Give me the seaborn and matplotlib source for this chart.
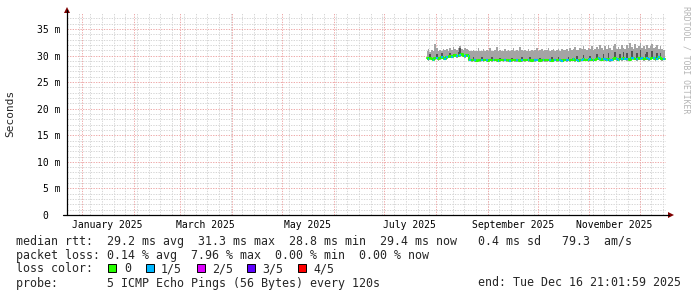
import numpy as np
import pandas as pd
import matplotlib
matplotlib.use("Agg")
import matplotlib.pyplot as plt
import matplotlib.dates as mdates
import seaborn as sns
from matplotlib.patches import Rectangle, Polygon
from matplotlib.lines import Line2D

# ---------------- data ----------------
first_day = "2025-07-26"
median_ms = [
    29.5, 29.3, 29.6, 29.4, 29.1, 29.5, 29.6, 29.3, 29.5, 29.7, 29.6, 29.4,
    29.7, 29.8, 29.9, 29.8, 30.0, 30.1, 29.9, 30.0, 30.1, 30.2, 30.0, 29.9,
    30.1, 30.0, 29.2, 29.1, 29.2, 29.1, 29.0, 29.2, 29.1, 29.2, 29.1, 29.2,
    29.1, 29.0, 29.2, 29.1, 29.2, 29.2, 29.1, 29.0, 29.1, 29.2, 29.1, 29.2,
    29.1, 29.2, 29.0, 29.1, 29.2, 29.1, 29.1, 29.2, 29.0, 29.1, 29.2, 29.1,
    29.2, 29.1, 29.1, 29.0, 29.2, 29.1, 29.2, 29.1, 29.0, 29.1, 29.2, 29.1,
    29.1, 29.2, 29.1, 29.0, 29.1, 29.2, 29.1, 29.1, 29.2, 29.0, 29.1, 29.2,
    29.1, 29.2, 29.1, 29.2, 29.3, 29.1, 29.2, 29.0, 29.1, 29.2, 29.3, 29.2,
    29.2, 29.1, 29.3, 29.2, 29.1, 29.2, 29.4, 29.5, 29.3, 29.2, 29.4, 29.3,
    29.2, 29.3, 29.1, 29.2, 29.4, 29.5, 29.3, 29.2, 29.4, 29.3, 29.5, 29.4,
    29.3, 29.4, 29.2, 29.5, 29.6, 29.4, 29.3, 29.5, 29.4, 29.6, 29.3, 29.4,
    29.5, 29.3, 29.4, 29.6, 29.5, 29.3, 29.4, 29.7, 29.5, 29.3, 29.4, 29.4,
]
smoke_max_ms = [
    30.9, 31.2, 30.7, 31.0, 30.8, 32.1, 31.5, 30.9, 31.1, 30.8, 31.3, 31.0,
    31.2, 30.9, 31.4, 31.1, 31.6, 31.2, 31.0, 31.5, 31.8, 31.3, 31.1, 31.4,
    31.2, 31.0, 30.9, 30.8, 31.1, 30.8, 30.9, 31.5, 30.8, 30.9, 31.2, 30.8,
    31.0, 30.8, 31.4, 30.9, 30.8, 31.1, 31.6, 30.8, 31.0, 30.9, 30.8, 31.2,
    30.9, 31.1, 30.8, 31.0, 31.5, 30.8, 31.0, 30.9, 31.6, 31.0, 30.8, 31.1,
    30.9, 31.2, 30.8, 31.0, 30.9, 31.1, 31.4, 30.8, 31.0, 31.2, 30.9, 31.0,
    31.0, 31.4, 30.9, 31.1, 31.2, 30.9, 31.0, 31.3, 30.9, 31.2, 31.0, 31.1,
    31.2, 30.9, 31.5, 31.0, 31.2, 31.6, 31.1, 31.0, 31.4, 31.2, 31.8, 31.3,
    31.1, 31.5, 31.2, 31.8, 31.1, 31.3, 31.6, 31.2, 31.9, 31.4, 31.1, 31.7,
    31.2, 32.0, 31.4, 31.1, 31.7, 32.2, 31.3, 31.6, 31.2, 32.0, 31.5, 31.3,
    31.9, 31.4, 32.4, 31.6, 31.2, 32.1, 31.5, 31.8, 32.3, 31.4, 31.7, 31.3,
    32.0, 31.5, 31.8, 32.2, 31.4, 31.6, 31.9, 31.3, 31.7, 31.2, 31.0, 30.9,
]
smoke_upper_ms = [
    29.7, 29.5, 30.2, 29.6, 29.3, 29.7, 30.3, 29.5, 29.7, 30.4, 29.8, 29.6,
    29.9, 30.0, 30.5, 30.0, 30.2, 30.3, 30.1, 30.6, 31.5, 30.4, 30.2, 30.1,
    30.3, 30.2, 29.4, 29.3, 29.8, 29.3, 29.2, 29.4, 29.3, 29.7, 29.3, 29.4,
    29.3, 29.2, 29.4, 29.7, 29.4, 29.4, 29.3, 29.2, 29.6, 29.4, 29.3, 29.4,
    29.3, 29.4, 29.2, 29.6, 29.4, 29.3, 29.3, 29.4, 29.2, 29.7, 29.4, 29.3,
    29.4, 29.3, 29.8, 29.2, 29.4, 29.3, 29.4, 29.3, 29.6, 29.3, 29.4, 29.3,
    29.3, 29.4, 29.3, 29.7, 29.3, 29.4, 29.3, 29.8, 29.4, 29.2, 29.3, 29.4,
    29.3, 29.8, 29.3, 29.4, 29.5, 29.3, 29.9, 29.2, 29.3, 29.4, 30.1, 29.4,
    29.4, 29.3, 30.0, 29.4, 29.3, 29.4, 30.2, 29.7, 29.5, 29.4, 30.3, 29.5,
    29.4, 30.4, 29.3, 29.4, 29.6, 30.6, 29.5, 29.4, 30.2, 29.5, 30.7, 29.6,
    30.5, 29.6, 29.4, 30.8, 29.8, 29.6, 30.4, 29.7, 31.0, 29.8, 29.5, 30.3,
    30.6, 29.5, 29.6, 30.9, 29.7, 29.5, 30.5, 29.9, 30.4, 29.5, 29.6, 29.6,
]
smoke_min_ms = [
    29.2, 29.0, 29.3, 29.1, 28.9, 29.2, 29.3, 29.0, 29.2, 29.4, 29.3, 29.1,
    29.4, 29.5, 29.6, 29.5, 29.7, 29.8, 29.6, 29.7, 29.8, 29.9, 29.7, 29.6,
    29.8, 29.7, 28.9, 28.8, 28.9, 28.8, 28.7, 28.9, 28.8, 28.9, 28.8, 28.9,
    28.8, 28.7, 28.9, 28.8, 28.9, 28.9, 28.8, 28.7, 28.8, 28.9, 28.8, 28.9,
    28.8, 28.9, 28.7, 28.8, 28.9, 28.8, 28.8, 28.9, 28.7, 28.8, 28.9, 28.8,
    28.9, 28.8, 28.8, 28.7, 28.9, 28.8, 28.9, 28.8, 28.7, 28.8, 28.9, 28.8,
    28.8, 28.9, 28.8, 28.7, 28.8, 28.9, 28.8, 28.8, 28.9, 28.7, 28.8, 28.9,
    28.8, 28.9, 28.8, 28.9, 29.0, 28.8, 28.9, 28.7, 28.8, 28.9, 29.0, 28.9,
    28.9, 28.8, 29.0, 28.9, 28.8, 28.9, 29.1, 29.2, 29.0, 28.9, 29.1, 29.0,
    28.9, 29.0, 28.8, 28.9, 29.1, 29.2, 29.0, 28.9, 29.1, 29.0, 29.2, 29.1,
    29.0, 29.1, 28.9, 29.2, 29.3, 29.1, 29.0, 29.2, 29.1, 29.3, 29.0, 29.1,
    29.2, 29.0, 29.1, 29.3, 29.2, 29.0, 29.1, 29.4, 29.2, 29.0, 29.1, 29.1,
]
loss_count = [
    0, 1, 0, 0, 1, 0, 1, 0, 0, 1, 0, 1,
    1, 0, 0, 1, 0, 0, 1, 0, 1, 0, 0, 1,
    0, 1, 1, 0, 0, 1, 0, 0, 0, 1, 0, 0,
    1, 0, 0, 0, 1, 0, 0, 1, 0, 0, 0, 1,
    0, 0, 1, 0, 0, 0, 1, 0, 0, 1, 0, 0,
    0, 1, 0, 0, 0, 1, 1, 0, 0, 0, 1, 0,
    0, 0, 1, 0, 0, 1, 0, 0, 1, 1, 0, 0,
    1, 1, 0, 0, 1, 0, 1, 1, 0, 1, 1, 0,
    0, 1, 1, 0, 1, 0, 0, 1, 1, 0, 1, 1,
    1, 0, 1, 1, 0, 0, 1, 1, 0, 1, 0, 1,
    1, 0, 0, 1, 1, 0, 1, 0, 1, 1, 0, 0,
    1, 1, 0, 0, 1, 0, 1, 1, 0, 0, 1, 0,
]
x_start = "2024-12-23 00:00"
x_end = "2025-12-16 21:02"
month_label_dates = ["2025-01-16", "2025-03-16", "2025-05-16",
                     "2025-07-16", "2025-09-16", "2025-11-16"]
month_labels = ["January 2025", "March 2025", "May 2025",
                "July 2025", "September 2025", "November 2025"]
y_ticks = [0, 5, 10, 15, 20, 25, 30, 35]
y_tick_labels = ["0  ", "5 m", "10 m", "15 m", "20 m", "25 m", "30 m", "35 m"]
loss_legend_labels = ["0", "1/5", "2/5", "3/5", "4/5"]
loss_legend_colors = ["#26ff00", "#00b8ff", "#dd00ff", "#5e00ff", "#ff0000"]
stats_row1 = "median rtt:  29.2 ms avg  31.3 ms max  28.8 ms min  29.4 ms now   0.4 ms sd   79.3  am/s"
stats_row2 = "packet loss: 0.14 % avg  7.96 % max  0.00 % min  0.00 % now"
stats_row3 = "loss color:"
stats_row4 = "probe:       5 ICMP Echo Pings (56 Bytes) every 120s"
end_text = "end: Tue Dec 16 21:01:59 2025"
watermark = "RRDTOOL / TOBI OETIKER"

# ---------------- figure ----------------
sns.set_style("white")
plt.rcParams["font.family"] = ["DejaVu Sans Mono", "DejaVu Sans"]

W, H = 697, 297
fig = plt.figure(figsize=(W / 100, H / 100), dpi=100)
fig.patch.set_facecolor("white")


def fx(x):
    return x / W


def fy(y):
    return 1 - y / H


L, R, B, T = 67, 666, 215, 13
ax = fig.add_axes([fx(L), fy(B), fx(R) - fx(L), fy(T) - fy(B)])
ax.set_facecolor("white")

days = pd.date_range(first_day, periods=len(median_ms), freq="D") + pd.Timedelta(hours=12)
xd = mdates.date2num(days.to_pydatetime())
df = pd.DataFrame({"x": xd, "median": median_ms, "max": smoke_max_ms,
                   "upper": smoke_upper_ms, "min": smoke_min_ms, "loss": loss_count})

x0 = mdates.date2num(pd.Timestamp(x_start).to_pydatetime())
x1 = mdates.date2num(pd.Timestamp(x_end).to_pydatetime())
ax.set_xlim(x0, x1)
ax.set_ylim(0, 38.0)

# grid
dot = (0, (1.3, 1.3))
for yv in range(1, 38):
    if yv % 5:
        ax.axhline(yv, color="#d6d6d6", lw=0.72, ls=dot, zorder=0)
weeks = pd.date_range(x_start, x_end, freq="W-MON")
for w in mdates.date2num(weeks.to_pydatetime()):
    ax.axvline(w, color="#d6d6d6", lw=0.72, ls=dot, zorder=0)
months = pd.date_range("2025-01-01", x_end, freq="MS")
month_nums = mdates.date2num(months.to_pydatetime())
for m in month_nums:
    ax.axvline(m, color="#eeaaaa", lw=0.72, ls=dot, zorder=0.5)
for yv in y_ticks[1:]:
    ax.axhline(yv, color="#eeaaaa", lw=0.72, ls=dot, zorder=0.5)

# smoke
ax.fill_between(df["x"], df["min"], df["max"], step="mid", color="#a4a4a4", lw=0, zorder=2)
ax.fill_between(df["x"], df["median"], df["upper"], step="mid", color="#555555", lw=0, zorder=3)

# median line coloured by loss
sns.lineplot(data=df, x="x", y="median", drawstyle="steps-mid", color=loss_legend_colors[0],
             lw=1.5, ax=ax, zorder=4, legend=False, estimator=None)
lossy = df[df["loss"] > 0]
ax.hlines(lossy["median"], lossy["x"] - 0.5, lossy["x"] + 0.5,
          colors=[loss_legend_colors[k] for k in lossy["loss"]], lw=1.5, zorder=5)

# ticks
for s in ax.spines.values():
    s.set_visible(False)
ax.set_xticks(month_nums, labels=[""] * len(month_nums))
ax.set_xticks(mdates.date2num(pd.to_datetime(month_label_dates).to_pydatetime()),
              labels=month_labels, minor=True)
ax.tick_params(axis="x", which="major", length=2.5, width=0.72, color="black", direction="out")
ax.tick_params(axis="x", which="minor", length=0, pad=3.6, labelsize=7, labelcolor="black")
ax.set_yticks(y_ticks, labels=y_tick_labels)
ax.tick_params(axis="y", which="major", length=2.5, width=0.72, color="black",
               direction="out", pad=2.2, labelsize=7, labelcolor="black")
ax.set_xlabel("")
ax.set_ylabel("")

# axes lines + arrows
fig.add_artist(Line2D([fx(L), fx(L)], [fy(B), fy(10)], color="black", lw=0.9))
fig.add_artist(Line2D([fx(63), fx(669)], [fy(B), fy(B)], color="black", lw=0.9))
fig.add_artist(Polygon([(fx(64), fy(13)), (fx(70), fy(13)), (fx(67), fy(7))],
                       closed=True, color="#7f0000", lw=0))
fig.add_artist(Polygon([(fx(668), fy(212)), (fx(668), fy(218)), (fx(674), fy(215))],
                       closed=True, color="#7f0000", lw=0))

# labels
fig.text(fx(10), fy(113), "Seconds", rotation=90, ha="center", va="center", fontsize=8)
fig.text(fx(686), fy(60), watermark, rotation=270, ha="center", va="center",
         fontsize=5.9, color="#b4b4b4")

fs = 8.4
fig.text(fx(16), fy(241), stats_row1, ha="left", va="center", fontsize=fs)
fig.text(fx(16), fy(255.5), stats_row2, ha="left", va="center", fontsize=fs)
fig.text(fx(16), fy(268.5), stats_row3, ha="left", va="center", fontsize=fs)
fig.text(fx(16), fy(283), stats_row4, ha="left", va="center", fontsize=fs)
fig.text(fx(478), fy(283), end_text, ha="left", va="center", fontsize=fs)

box_x = [108, 146, 197, 247, 298]
lab_x = [124, 161, 212, 262, 313]
for bx, lx, lab, col in zip(box_x, lab_x, loss_legend_labels, loss_legend_colors):
    fig.add_artist(Rectangle((fx(bx), fy(272)), fx(7.5), 8.0 / H, facecolor=col,
                             edgecolor="black", lw=0.7))
    fig.text(fx(lx), fy(268.5), lab, ha="left", va="center", fontsize=fs)

fig.savefig("out.png", dpi=100, facecolor="white")
